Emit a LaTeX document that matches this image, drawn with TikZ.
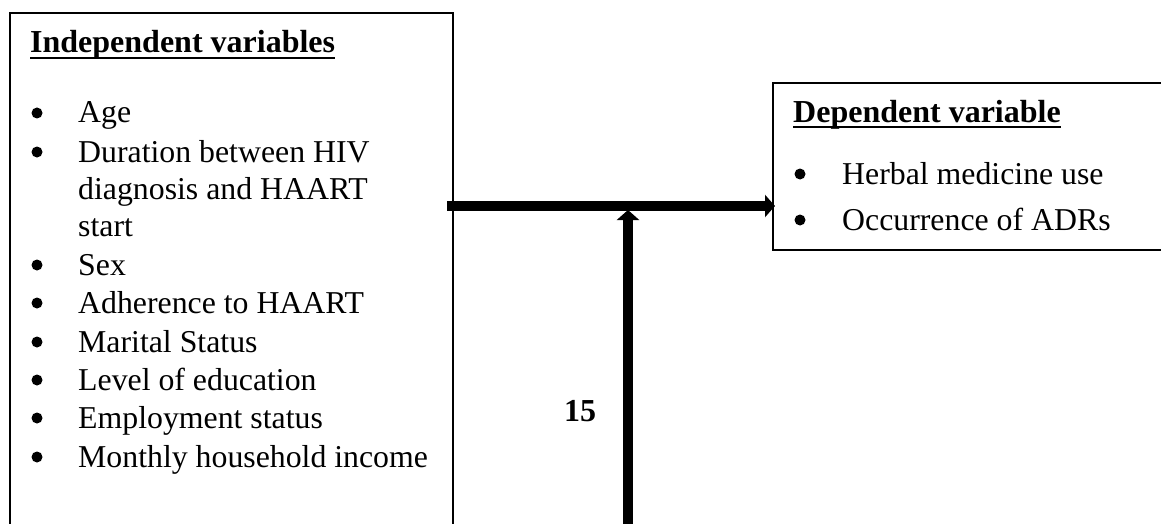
\documentclass[tikz,border=0pt]{standalone}
\usepackage{fontspec}
\setmainfont{Liberation Serif}
\usetikzlibrary{arrows.meta}
\begin{document}
\begin{tikzpicture}[x=1pt,y=-1pt,
  box/.style={draw,line width=2pt,inner sep=0pt},
  item/.style={anchor=base west,inner sep=0pt,font=\fontsize{31.8}{36}\selectfont},
  bul/.style={circle,fill,inner sep=0pt,minimum size=11pt},
  head/.style={anchor=base west,inner sep=0pt,font=\fontsize{32}{36}\selectfont\bfseries},
  uline/.style={line width=2.6pt},
  thick arrow/.style={line width=10pt,-{Triangle[length=10pt,width=22pt]}}]
\useasboundingbox (0,0) rectangle (1161,524);
\fill[white] (0,0) rectangle (1161,524);
% boxes (open at edges of the picture)
\node[box,anchor=north west,minimum width=443pt,minimum height=540pt] (indep) at (9,12) {};
\node[box,anchor=north west,minimum width=400pt,minimum height=167pt] (dep) at (772,82) {};
% left heading and list
\node[head] (h1) at (30,53) {Independent variables};
\draw[uline] ([yshift=-5pt]h1.base west) -- ([yshift=-5pt]h1.base east);
\node[bul] (b1) at (37,113) {};
\node[item] (i1) at (78,123) {Age};
\node[bul] (b2) at (37,152) {};
\node[item] (i2) at (78,162) {Duration between HIV};
\node[item] (i2b) at (78,199) {diagnosis and HAART};
\node[item] (i2c) at (78,236) {start};
\node[bul] (b3) at (37,265) {};
\node[item] (i3) at (78,275) {Sex};
\node[bul] (b4) at (37,303) {};
\node[item] (i4) at (78,313) {Adherence to HAART};
\node[bul] (b5) at (37,342) {};
\node[item] (i5) at (78,352) {Marital Status};
\node[bul] (b6) at (37,380) {};
\node[item] (i6) at (78,390) {Level of education};
\node[bul] (b7) at (37,418) {};
\node[item] (i7) at (78,428) {Employment status};
\node[bul] (b8) at (37,457) {};
\node[item] (i8) at (78,467) {Monthly household income};
% right heading and list
\node[head] (h2) at (793,122) {Dependent variable};
\draw[uline] ([yshift=-5pt]h2.base west) -- ([yshift=-5pt]h2.base east);
\node[bul] (c1) at (800,174) {};
\node[item] (j1) at (842,184) {Herbal medicine use};
\node[bul] (c2) at (800,220) {};
\node[item] (j2) at (842,230) {Occurrence of ADRs};
% label
\node[head,anchor=base] (n15) at (580,421) {15};
% connectors
\coordinate (hstart) at (447,206);
\coordinate (hend) at (dep.west |- hstart);
\coordinate (vstart) at (628,530);
\coordinate (vend) at (628,210);
\draw[thick arrow] (hstart) -- ([xshift=3pt]hend);
\draw[thick arrow] (vstart) -- (vend);
\end{tikzpicture}
\end{document}
